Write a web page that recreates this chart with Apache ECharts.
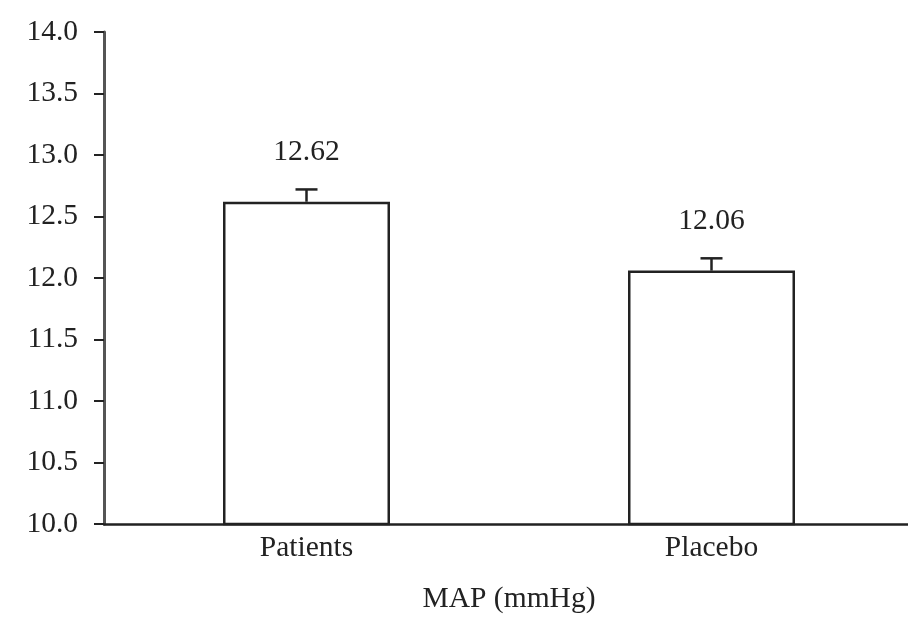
<!DOCTYPE html>
<html>
<head>
<meta charset="utf-8">
<script src="https://cdn.jsdelivr.net/npm/echarts@6/dist/echarts.min.js"></script>
<style>html,body{margin:0;padding:0;background:#fff}#c{width:908px;height:617px}</style>
</head>
<body>
<div id="c"></div>
<script>
const categories = ['Patients', 'Placebo'];
const means = [12.62, 12.06];
const errors = [0.10, 0.10];
const yTicks = { min: 10.0, max: 14.0, interval: 0.5 };
const xTitle = 'MAP (mmHg)';

const FONT = '"Liberation Serif", "Times New Roman", serif';
const TXT = '#222';
const FS = 29.5;
const chart = echarts.init(document.getElementById('c'), null, { renderer: 'canvas' });
chart.setOption({
  animation: false,
  backgroundColor: '#fff',
  grid: { left: 104, top: 32, width: 810, bottom: 93, containLabel: false, outerBoundsMode: 'none' },
  xAxis: {
    type: 'category',
    data: categories,
    name: xTitle,
    nameLocation: 'middle',
    nameGap: 60,
    nameTextStyle: { color: TXT, fontFamily: FONT, fontSize: FS },
    axisLine: { lineStyle: { color: '#222', width: 2.5 } },
    axisTick: { show: false },
    axisLabel: { color: TXT, fontFamily: FONT, fontSize: FS, margin: 9 }
  },
  yAxis: {
    type: 'value',
    min: yTicks.min, max: yTicks.max, interval: yTicks.interval,
    axisLine: { show: true, lineStyle: { color: '#555', width: 3 } },
    axisTick: { show: true, inside: false, length: 10, lineStyle: { color: '#222', width: 2 } },
    splitLine: { show: false },
    axisLabel: { color: TXT, fontFamily: FONT, fontSize: FS, margin: 26, formatter: v => v.toFixed(1) }
  },
  series: [
    {
      type: 'bar',
      data: means,
      barWidth: 167,
      itemStyle: { color: '#fff', borderColor: '#222', borderWidth: 2.5 },
      label: { show: true, position: 'top', distance: 34, color: TXT, fontFamily: FONT, fontSize: FS, formatter: p => p.value.toFixed(2) },
      z: 2
    },
    {
      type: 'custom',
      data: means.map((m, i) => [i, m, m + errors[i]]),
      z: 3,
      renderItem: function (params, api) {
        const x = api.coord([api.value(0), api.value(1)])[0];
        const yb = api.coord([api.value(0), api.value(1)])[1];
        const yt = api.coord([api.value(0), api.value(2)])[1];
        const half = 11;
        return {
          type: 'group',
          children: [
            { type: 'line', shape: { x1: x, y1: yb, x2: x, y2: yt }, style: { stroke: '#222', lineWidth: 2.5 } },
            { type: 'line', shape: { x1: x - half, y1: yt, x2: x + half, y2: yt }, style: { stroke: '#222', lineWidth: 2.5 } }
          ]
        };
      }
    }
  ]
});
</script>
</body>
</html>
